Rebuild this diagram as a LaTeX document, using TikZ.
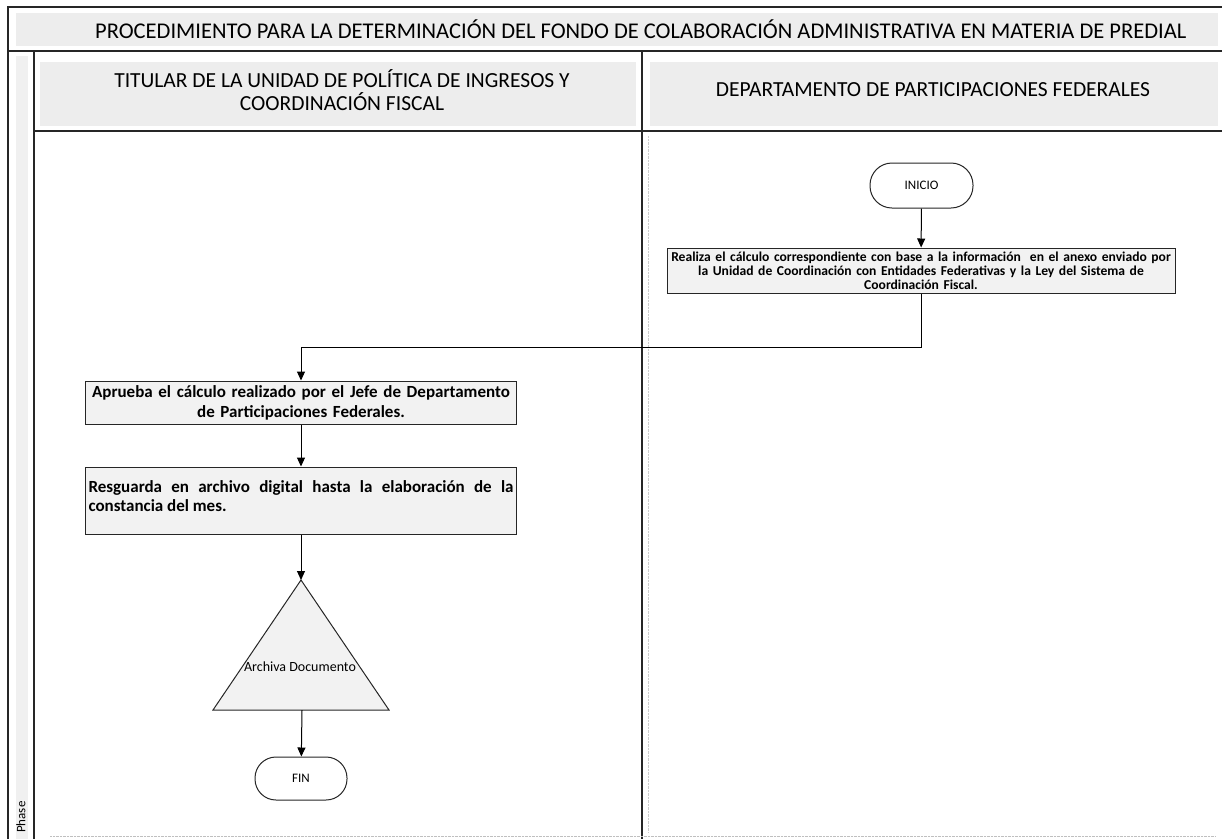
\documentclass[tikz,border=0pt]{standalone}
\usepackage{fontspec}
\setmainfont{Carlito}
\usetikzlibrary{arrows.meta}
\begin{document}
\begin{tikzpicture}[x=1pt,y=-1pt,
  lane/.style={draw=black!85, line width=1.2pt},
  procbox/.style={draw=black!85, line width=1pt, fill=black!5, inner sep=3pt},
  termbox/.style={draw=black!85, line width=1pt, fill=white, inner sep=2pt},
  flow/.style={draw=black, line width=1pt, -{Triangle[length=9pt,width=8pt]}},
  hdr/.style={font=\fontsize{21.5}{23}\selectfont, align=center, inner sep=0pt},
]
\useasboundingbox (0,0) rectangle (1222,839);
\fill[white] (0,0) rectangle (1222,839);
% header shading
\fill[black!7] (16,13) rectangle (1218,46);
\fill[black!7] (40,62) rectangle (636,126);
\fill[black!7] (650,62) rectangle (1218,126);
\fill[black!6] (16,56) rectangle (28,839);
% pool and lane lines
\draw[lane] (8,839) -- (8,7) -- (1222,7);
\draw[lane] (8,51) -- (1222,51);
\draw[lane] (34,131) -- (1222,131);
\draw[lane] (34,51) -- (34,839);
\draw[lane] (642,51) -- (642,839);
\draw[black!25, densely dotted] (50,836) -- (1215,836);
\draw[black!20, densely dotted] (648,136) -- (648,832);
% texts of headers
\node[hdr, font=\fontsize{22.5}{24}\selectfont, anchor=west] (title) at (95,29) {PROCEDIMIENTO PARA LA DETERMINACIÓN DEL FONDO DE COLABORACIÓN ADMINISTRATIVA EN MATERIA DE PREDIAL};
\node[hdr] (lane1) at (342,90.5) {TITULAR DE LA UNIDAD DE POLÍTICA DE INGRESOS Y\\COORDINACIÓN FISCAL};
\node[hdr] (lane2) at (933,90) {DEPARTAMENTO DE PARTICIPACIONES FEDERALES};
\node[rotate=90, anchor=west, inner sep=0pt, font=\fontsize{13}{15}\selectfont] (phase) at (21,833) {Phase};
% flow nodes
\node[termbox, rounded corners=22pt, minimum width=103pt, minimum height=45pt, font=\fontsize{13}{15}\selectfont] (inicio) at (921.5,185.5) {INICIO};
\node[procbox, inner sep=2pt, minimum width=508pt, minimum height=45pt, text width=504pt, align=center, font=\bfseries\fontsize{13.6}{14}\selectfont] (calc) at (921,270.5) {Realiza el cálculo correspondiente con base a la información\ \ en el anexo enviado por\\la Unidad de Coordinación con Entidades Federativas y la Ley del Sistema de\\Coordinación Fiscal.};
\node[procbox, minimum width=431pt, minimum height=43pt, text width=425pt, align=center, font=\bfseries\fontsize{17}{20}\selectfont] (aprueba) at (301,402.5) {Aprueba el cálculo realizado por el Jefe de Departamento\\de Participaciones Federales.};
\node[procbox, inner sep=3pt, font=\bfseries\fontsize{17}{19}\selectfont] (resguarda) at (301,500.5) {\parbox[c][61pt][t]{425pt}{\vspace*{11pt}Resguarda en archivo digital hasta la elaboración de la\linebreak constancia del mes.}};
\coordinate (tritop) at (301,580);
\coordinate (tribot) at (302,710);
\draw[black!85, line width=1pt, fill=black!5] (tritop) -- (389,710) -- (213,710) -- cycle;
\node[font=\fontsize{14}{16}\selectfont, inner sep=0pt] (archiva) at (300,667) {Archiva Documento};
\node[termbox, rounded corners=21pt, minimum width=92pt, minimum height=43pt, font=\fontsize{13}{15}\selectfont] (fin) at (301,778.5) {FIN};
% connectors
\draw[flow] (inicio) -- (calc);
\draw[flow] (calc.south) -- ++(0,54) -| (aprueba.north);
\draw[flow] (aprueba) -- (resguarda);
\draw[flow] (resguarda.south) -- (tritop);
\draw[flow] (tribot) -- (fin);
\end{tikzpicture}
\end{document}
